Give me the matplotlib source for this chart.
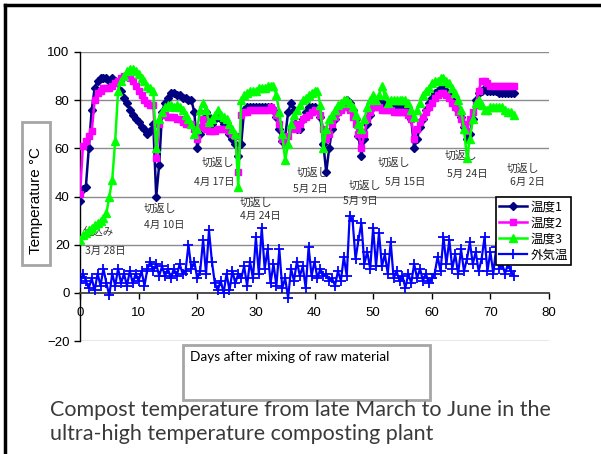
import numpy as np
import matplotlib
matplotlib.use("Agg")
import matplotlib.pyplot as plt
from matplotlib.patches import Rectangle
from matplotlib.lines import Line2D

# ---------------- data (one value every 0.5 day) ----------------
days = np.arange(0, 74.01, 0.5)

temp1 = [38, 43, 44, 60, 76, 85, 88, 89, 89, 89, 88, 89, 88, 87, 84, 81, 79, 76, 74, 72,
         71, 69, 68, 66, 67, 70, 40, 53, 75, 79, 81, 83, 83, 82, 82, 81, 81, 80, 80, 75,
         60, 66, 72, 75, 73, 70, 72, 73, 72, 70, 68, 66, 64, 62, 57, 62, 76, 77, 77, 77,
         77, 77, 77, 77, 77, 77, 76, 73, 68, 63, 65, 75, 79, 76, 68, 68, 72, 75, 77, 77,
         77, 76, 73, 62, 50, 60, 68, 72, 75, 77, 79, 80, 79, 76, 72, 65, 57, 64, 70, 74,
         77, 78, 79, 79, 78, 78, 77, 77, 77, 77, 77, 77, 76, 72, 60, 64, 69, 72, 76, 79,
         81, 83, 84, 85, 85, 84, 82, 80, 78, 76, 73, 69, 64, 66, 72, 80, 83, 84, 85, 84,
         84, 84, 84, 83, 83, 83, 83, 83, 83]

temp2 = [41, 61, 63, 65, 67, 80, 83, 84, 85, 85, 85, 86, 87, 88, 89, 90, 90, 89, 88, 86,
         84, 82, 80, 79, 78, 78, 56, 70, 74, 74, 73, 73, 73, 72, 72, 71, 70, 70, 70, 68,
         64, 69, 72, 68, 67, 67, 67, 68, 68, 68, 68, 67, 66, 65, 50, 74, 75, 75, 76, 76,
         76, 76, 76, 76, 76, 77, 76, 74, 70, 64, 62, 65, 68, 70, 68, 70, 72, 73, 74, 75,
         76, 76, 74, 68, 64, 66, 70, 73, 75, 76, 77, 77, 76, 73, 70, 66, 60, 66, 72, 75,
         77, 77, 77, 76, 76, 76, 76, 75, 75, 75, 75, 75, 74, 72, 64, 68, 71, 73, 75, 77,
         79, 81, 82, 83, 83, 82, 81, 79, 77, 75, 72, 70, 67, 72, 75, 78, 84, 88, 88, 87,
         86, 86, 86, 86, 86, 86, 86, 86, 86]

temp3 = [22, 24, 25, 26, 27, 28, 29, 30, 31, 33, 40, 47, 63, 84, 88, 90, 92, 93, 93, 92,
         91, 89, 88, 86, 85, 84, 60, 72, 75, 77, 78, 78, 77, 78, 77, 76, 74, 72, 70, 66,
         68, 76, 79, 76, 71, 72, 74, 76, 74, 73, 72, 70, 68, 66, 44, 80, 82, 83, 84, 84,
         84, 85, 85, 85, 86, 86, 86, 82, 75, 66, 55, 62, 70, 74, 76, 78, 80, 81, 82, 83,
         84, 84, 78, 60, 68, 72, 74, 76, 78, 79, 80, 80, 79, 77, 74, 70, 68, 72, 77, 80,
         82, 80, 82, 86, 82, 79, 80, 80, 80, 80, 80, 80, 79, 76, 73, 76, 79, 82, 84, 85,
         87, 88, 88, 89, 89, 88, 87, 85, 83, 80, 76, 68, 56, 64, 72, 79, 80, 78, 76, 76,
         77, 77, 77, 77, 77, 76, 75, 75, 74]

air = [4, 8, 5, 2, 6, 1, 8, 3, 10, 4, -1, 8, 3, 10, 4, 8, 3, 9, 4, 8,
       5, 9, 3, 10, 13, 9, 12, 7, 11, 7, 10, 6, 10, 7, 12, 8, 9, 20, 10, 13,
       6, 9, 22, 8, 26, 13, 4, 1, 5, 0, 8, 1, 9, 4, 8, 6, 11, 3, 13, 6,
       23, 8, 27, 10, 18, 4, 12, 3, 18, 2, 6, -2, 10, 5, 13, 7, 11, 2, 19, 7,
       13, 6, 10, 7, 8, 5, 6, 3, 9, 5, 15, 7, 32, 30, 14, 22, 29, 12, 17, 10,
       27, 11, 25, 11, 16, 8, 21, 6, 9, 5, 7, 2, 8, 4, 12, 6, 10, 5, 8, 4,
       6, 8, 15, 9, 23, 12, 22, 10, 16, 8, 18, 9, 14, 21, 12, 17, 9, 14, 23, 9,
       17, 8, 19, 10, 12, 8, 12, 9, 7]

series_names = ["温度1", "温度2", "温度3", "外気温"]

# turning events: label "切返し" and its date
turn_labels = ["切返し"] * 8
turn_dates = ["4月 10日", "4月 17日", "4月 24日", "5月 2日", "5月 9日", "5月 15日", "5月 24日", "6月 2日"]
turn_label_pos = [(13.7, 35), (23.5, 54), (30.0, 37.5), (39.8, 50), (48.6, 44.5), (53.6, 54), (65.0, 57), (75.6, 51.6)]
turn_date_pos = [(14.4, 28), (22.9, 46), (30.7, 32), (39.3, 43), (47.8, 38), (55.5, 46), (66.0, 49.5), (76.3, 46)]

start_label = "仕込み"
start_date = "3月 28日"

y_ticks = [-20, 0, 20, 40, 60, 80, 100]
x_ticks = [0, 10, 20, 30, 40, 50, 60, 70, 80]

y_label = "Temperature °C"
x_label = "Days after mixing of raw material"
caption_lines = ["Compost temperature from late March to June in the",
                 "ultra-high temperature composting plant"]

# ---------------- figure ----------------
W, H = 601, 454
fig = plt.figure(figsize=(W / 100, H / 100), dpi=100)
fig.patch.set_facecolor("white")

def fx(px):
    return px / W

def fy(py):
    return 1 - py / H

ax = fig.add_axes([fx(80), fy(341), fx(549) - fx(80), fy(52) - fy(341)])
ax.set_xlim(0, 80)
ax.set_ylim(-20, 100)

for yv in [20, 40, 60, 80, 100]:
    ax.axhline(yv, color="#8c8c8c", lw=1.0, zorder=0)
ax.axhline(-20, color="#8c8c8c", lw=1.0, zorder=0)

for s in ["top", "right"]:
    ax.spines[s].set_visible(False)
ax.spines["left"].set_color("black")
ax.spines["left"].set_linewidth(1.0)
ax.spines["bottom"].set_position(("data", 0))
ax.spines["bottom"].set_color("#404040")
ax.spines["bottom"].set_linewidth(1.3)

ax.set_yticks(y_ticks)
ax.set_xticks(x_ticks)
ax.tick_params(axis="both", direction="out", length=4, width=1, colors="black",
               labelsize=9.5)
ax.tick_params(axis="x", pad=6)
for lab in ax.get_xticklabels() + ax.get_yticklabels():
    lab.set_fontfamily("Liberation Sans")

l1, = ax.plot(days, temp1, color="#000080", lw=1.8, marker="D", ms=4.5, mec="#000080", mfc="#000080", zorder=3)
l2, = ax.plot(days, temp2, color="#ff00ff", lw=1.8, marker="s", ms=5, mec="#ff00ff", mfc="#ff00ff", zorder=4)
l3, = ax.plot(days, temp3, color="#00ff00", lw=1.8, marker="^", ms=6, mec="#00ff00", mfc="#00ff00", zorder=5)
l4, = ax.plot(days, air, color="#0000ff", lw=1.6, marker="+", ms=7, mew=1.3, zorder=6)

cjk = ["Noto Sans CJK JP", "DejaVu Sans"]
ann_color = "#333333"
ax.text(0.5, 25.5, start_label, fontsize=7.5, family=cjk, color=ann_color, ha="left", va="center", zorder=2)
ax.text(0.9, 17.5, start_date, fontsize=7.5, family=cjk, color=ann_color, ha="left", va="center", zorder=2)
for (x, y), t in zip(turn_label_pos, turn_labels):
    ax.text(x, y, t, fontsize=7.8, family=cjk, color=ann_color, ha="center", va="center", zorder=2)
for (x, y), t in zip(turn_date_pos, turn_dates):
    ax.text(x, y, t, fontsize=7.5, family=cjk, color=ann_color, ha="center", va="center", zorder=2)

leg = ax.legend([l1, l2, l3, l4], series_names, loc="upper left",
                bbox_to_anchor=(fx(496), fy(197)), bbox_transform=fig.transFigure,
                prop={"family": cjk, "size": 9}, frameon=True, fancybox=False,
                edgecolor="black", framealpha=1, borderpad=0.25, labelspacing=0.25,
                handlelength=2.2, handletextpad=0.3, borderaxespad=0)
leg.get_frame().set_linewidth(1.2)
leg.set_zorder(10)

# y-label box
fig.add_artist(Rectangle((fx(22), fy(265)), fx(50) - fx(22), fy(122) - fy(265),
                         transform=fig.transFigure, fill=False, edgecolor="#a6a6a6", lw=2))
fig.text(fx(36), fy(200), y_label, rotation=90, ha="center", va="center",
         fontsize=11, family="Liberation Sans", color="black")

# x-label box
fig.add_artist(Rectangle((fx(183), fy(400)), fx(430) - fx(183), fy(345) - fy(400),
                         transform=fig.transFigure, fill=False, edgecolor="#a6a6a6", lw=2))
fig.text(fx(190), fy(357), x_label, ha="left", va="center", fontsize=9.8, family="Lato", color="black")

# caption
fig.text(fx(50), fy(410), caption_lines[0], ha="left", va="center", fontsize=15.5, family="Lato", color="#3a3a3a")
fig.text(fx(50), fy(434), caption_lines[1], ha="left", va="center", fontsize=15.5, family="Lato", color="#3a3a3a")

# slide frame (top and left edges)
fig.add_artist(Line2D([fx(5), 1.0], [fy(5), fy(5)], transform=fig.transFigure, color="black", lw=2.5))
fig.add_artist(Line2D([fx(5), fx(5)], [fy(5), 0.0], transform=fig.transFigure, color="black", lw=2.5))

fig.savefig("out.png", dpi=100)
